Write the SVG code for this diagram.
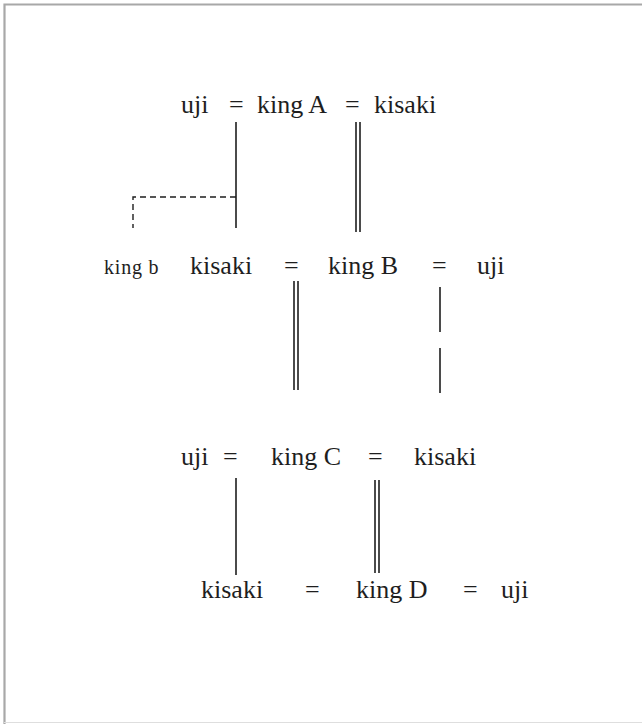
<svg xmlns="http://www.w3.org/2000/svg" width="642" height="724" viewBox="0 0 642 724">
  <style>
    .t { font-family: "Liberation Serif", "Times New Roman", serif; font-size: 26px; fill: #1e1e1e; }
    .s { font-family: "Liberation Serif", "Times New Roman", serif; font-size: 20px; fill: #1e1e1e; letter-spacing: 0.8px; }
    .ln { stroke: #1e1e1e; stroke-width: 1.6; fill: none; }
    .dash { stroke: #1e1e1e; stroke-width: 1.4; fill: none; stroke-dasharray: 6 4; }
  </style>
  <rect width="642" height="724" fill="#ffffff"/>
  <!-- frame -->
  <path d="M4.5 724 V4.5 H642" stroke="#a8a8a8" stroke-width="2.2" fill="none"/>
  <line x1="4" y1="722.5" x2="642" y2="722.5" stroke="#dedede" stroke-width="1"/>

  <!-- generation 1 -->
  <g id="row1">
    <text class="t" x="181" y="113">uji</text>
    <text class="t" x="229" y="113">=</text>
    <text class="t" x="257" y="113">king A</text>
    <text class="t" x="345" y="113">=</text>
    <text class="t" x="374" y="113">kisaki</text>
  </g>
  <!-- generation 2 -->
  <g id="row2">
    <text class="s" x="104" y="274">king b</text>
    <text class="t" x="190" y="274">kisaki</text>
    <text class="t" x="284" y="274">=</text>
    <text class="t" x="328" y="274">king B</text>
    <text class="t" x="432" y="274">=</text>
    <text class="t" x="477" y="274">uji</text>
  </g>
  <!-- generation 3 -->
  <g id="row3">
    <text class="t" x="181" y="465">uji</text>
    <text class="t" x="223" y="465">=</text>
    <text class="t" x="271" y="465">king C</text>
    <text class="t" x="368" y="465">=</text>
    <text class="t" x="414" y="465">kisaki</text>
  </g>
  <!-- generation 4 -->
  <g id="row4">
    <text class="t" x="201" y="598">kisaki</text>
    <text class="t" x="305" y="598">=</text>
    <text class="t" x="356" y="598">king D</text>
    <text class="t" x="463" y="598">=</text>
    <text class="t" x="501" y="598">uji</text>
  </g>

  <g id="connectors">
    <!-- A to B-row -->
    <line class="ln" x1="236" y1="122" x2="236" y2="228"/>
    <line class="ln" x1="356" y1="122" x2="356" y2="232"/>
    <line class="ln" x1="360" y1="122" x2="360" y2="232"/>
    <path class="dash" d="M236 197 H133 V228"/>
    <!-- B-row to C-row -->
    <line class="ln" x1="294" y1="281" x2="294" y2="390"/>
    <line class="ln" x1="298" y1="281" x2="298" y2="390"/>
    <line class="ln" x1="440" y1="287" x2="440" y2="332"/>
    <line class="ln" x1="440" y1="348" x2="440" y2="393"/>
    <!-- C-row to D-row -->
    <line class="ln" x1="236" y1="478" x2="236" y2="575"/>
    <line class="ln" x1="375" y1="480" x2="375" y2="573"/>
    <line class="ln" x1="379" y1="480" x2="379" y2="573"/>
  </g>
</svg>
